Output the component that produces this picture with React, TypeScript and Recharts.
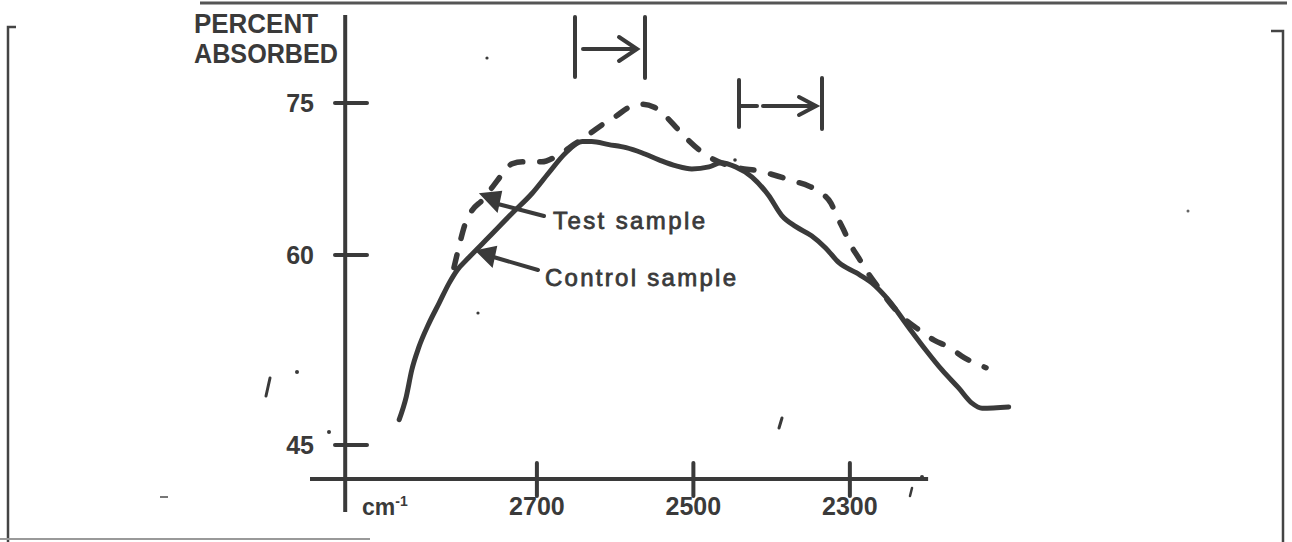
import React from "react";
import { LineChart, Line, XAxis, YAxis, ReferenceLine } from "recharts";

const INK = "#3a3a3a";

// wavenumber (cm-1) and percent absorbed left to right
const controlWn = [
  2876, 2867, 2860, 2851, 2838, 2825, 2812, 2802, 2787, 2761, 2732, 2706, 2685, 2663,
  2642, 2630, 2608, 2586, 2566, 2544, 2522, 2502, 2480, 2465, 2446, 2425, 2404, 2387,
  2369, 2349, 2331, 2314, 2292, 2272, 2250, 2225, 2203, 2182, 2161, 2144, 2131, 2097,
];
const controlPct = [
  47.0, 48.8, 50.9, 52.7, 54.6, 56.2, 57.8, 58.8, 59.8, 61.8, 64.1, 66.1, 68.1, 70.1,
  71.2, 71.2, 70.9, 70.6, 70.1, 69.4, 68.8, 68.5, 68.7, 69.1, 68.7, 67.7, 65.9, 63.9,
  62.8, 61.9, 60.7, 59.4, 58.6, 57.8, 56.4, 54.3, 52.5, 50.9, 49.5, 48.3, 47.9, 48.0,
];

const testWn = [
  2806, 2800, 2792, 2783, 2770, 2755, 2742, 2732, 2717, 2694, 2672, 2653, 2634, 2614,
  2599, 2582, 2566, 2550, 2534, 2522, 2506, 2493, 2478, 2461, 2442, 2416, 2397, 2372,
  2352, 2336, 2324, 2317, 2308, 2299, 2289, 2276, 2263, 2246, 2231, 2212, 2193, 2173,
  2154, 2126,
];
const testPct = [
  59.0, 60.7, 63.0, 64.4, 65.4, 66.9, 68.2, 69.0, 69.2, 69.2, 69.9, 70.9, 71.9, 73.0,
  73.7, 74.6, 74.9, 74.6, 73.6, 72.6, 71.3, 70.4, 69.6, 69.0, 68.6, 68.3, 67.9, 67.3,
  66.8, 66.1, 65.1, 63.9, 62.5, 61.0, 59.8, 58.5, 57.4, 56.0, 55.0, 54.1, 53.3, 52.7,
  51.9, 51.1,
];

const xTicks = [2700, 2500, 2300];
const yTicks = [45, 60, 75];

const X_DOMAIN = [2080, 2990];
const Y_DOMAIN = [39.7, 83.7];
const Y_AXIS_AT = 2945; // wavenumber where the vertical axis is drawn
const X_AXIS_AT = 42.3; // percent where the horizontal axis is drawn
const X_AXIS_END = 2200;

const controlData = controlWn.map((wn, i) => ({ wn, pct: controlPct[i] }));
const testData = testWn.map((wn, i) => ({ wn, pct: testPct[i] }));

// the hand-drawn y axis spaces its ticks unevenly (45->60 is longer than 60->75),
// so use a piecewise-linear scale through the tick values
const Y_KNOT_POS = [0, 190, 342];
function warp(v: number) {
  const i = v < yTicks[1] ? 0 : 1;
  return (
    Y_KNOT_POS[i] +
    ((v - yTicks[i]) * (Y_KNOT_POS[i + 1] - Y_KNOT_POS[i])) / (yTicks[i + 1] - yTicks[i])
  );
}
function warpedScale(dom: number[] = [0, 1], rng: number[] = [0, 1]): any {
  let d = dom.slice();
  let r = rng.slice();
  const s: any = (v: number) => {
    const a = warp(d[0]);
    const b = warp(d[d.length - 1]);
    return r[0] + ((warp(v) - a) / (b - a)) * (r[r.length - 1] - r[0]);
  };
  s.domain = (nd?: number[]) => {
    if (!nd) return d.slice();
    d = nd.map(Number);
    return s;
  };
  s.range = (nr?: number[]) => {
    if (!nr) return r.slice();
    r = nr.slice();
    return s;
  };
  s.copy = () => warpedScale(d, r);
  s.ticks = () => yTicks;
  s.clamp = () => s;
  return s;
}

const Y_AXIS_X = 346;

function YTick({ y, payload }: any) {
  return (
    <g>
      <line x1={Y_AXIS_X - 11} x2={Y_AXIS_X + 21} y1={y} y2={y} stroke={INK} strokeWidth={4} strokeLinecap="round" />
      <text x={314} y={y} dy={9} textAnchor="end" fontSize={25} fontWeight="bold" fill={INK}>
        {payload.value}
      </text>
    </g>
  );
}

function XTick({ x, payload }: any) {
  return (
    <g>
      <line x1={x} x2={x} y1={463} y2={496} stroke={INK} strokeWidth={4} strokeLinecap="round" />
      <text x={x} y={515} textAnchor="middle" fontSize={25} fontWeight="bold" fill={INK}>
        {payload.value}
      </text>
    </g>
  );
}

function Annotations() {
  const ln = { stroke: INK, strokeWidth: 4, strokeLinecap: "round" as const, fill: "none" };
  return (
    <svg
      width={1292}
      height={542}
      style={{ position: "absolute", left: 0, top: 0, pointerEvents: "none" }}
    >
      {/* scan edges */}
      <line x1={200} y1={3} x2={1287} y2={3} stroke="#555" strokeWidth={3} />
      <path d="M16,27 L8,27 L8,542" stroke="#444" strokeWidth={2.5} fill="none" />
      <path d="M1271,31 L1283,31 L1283,542" stroke="#444" strokeWidth={2.5} fill="none" />
      <line x1={0} y1={539} x2={370} y2={539} stroke="#999" strokeWidth={2} />

      {/* axis title */}
      <text x={194} y={33} fontSize={27} fontWeight="bold" fill={INK} textLength={124} lengthAdjust="spacingAndGlyphs">
        PERCENT
      </text>
      <text x={194} y={63} fontSize={27} fontWeight="bold" fill={INK} textLength={144} lengthAdjust="spacingAndGlyphs">
        ABSORBED
      </text>
      <text x={362} y={515} fontSize={23} fontWeight="bold" fill={INK}>
        cm<tspan dy={-9} fontSize={14}>-1</tspan>
      </text>

      {/* shift brackets */}
      <line x1={575} y1={17} x2={575} y2={77} {...ln} />
      <line x1={645} y1={17} x2={645} y2={78} {...ln} />
      <line x1={583} y1={49} x2={636} y2={49} {...ln} />
      <path d="M619,37 L637,49 L619,61" {...ln} />

      <line x1={739} y1={80} x2={739} y2={127} {...ln} />
      <line x1={822} y1={78} x2={822} y2={129} {...ln} />
      <line x1={741} y1={106} x2={757} y2={106} {...ln} />
      <line x1={763} y1={106} x2={815} y2={106} {...ln} />
      <path d="M799,97 L816,106 L799,115" {...ln} />

      {/* series labels */}
      <line x1={544} y1={216} x2={494} y2={203} {...ln} />
      <path d="M481,194 L501,192 L497,211 Z" fill={INK} stroke={INK} strokeWidth={2} />
      <text x={553} y={229} fontSize={24} fill={INK} stroke={INK} strokeWidth={0.8} textLength={152}>
        Test sample
      </text>
      <line x1={538} y1={270} x2={490} y2={256} {...ln} />
      <path d="M477,251 L496,247 L492,266 Z" fill={INK} stroke={INK} strokeWidth={2} />
      <text x={545} y={286} fontSize={24} fill={INK} stroke={INK} strokeWidth={0.8} textLength={191}>
        Control sample
      </text>

      {/* specks on the copy */}
      <circle cx={487} cy={58} r={1.6} fill={INK} />
      <path d="M270,378 L266,396" stroke={INK} strokeWidth={3} strokeLinecap="round" />
      <circle cx={297} cy={372} r={2} fill={INK} />
      <circle cx={329} cy={432} r={2} fill={INK} />
      <circle cx={478} cy={313} r={1.6} fill={INK} />
      <circle cx={735} cy={160} r={1.8} fill={INK} />
      <path d="M782,418 L779,428" stroke={INK} strokeWidth={3} strokeLinecap="round" />
      <path d="M912,488 L910,496" stroke={INK} strokeWidth={2.5} strokeLinecap="round" />
      <circle cx={922} cy={477} r={2} fill={INK} />
      <circle cx={1188} cy={211} r={1.5} fill="#666" />
      <path d="M160,497 L168,497" stroke="#777" strokeWidth={2} />
    </svg>
  );
}

export default function App() {
  return (
    <div
      style={{
        position: "absolute",
        left: 0,
        top: 0,
        width: 1292,
        height: 542,
        background: "#fff",
        fontFamily: "'Liberation Sans', Arial, sans-serif",
      }}
    >
      {/* axes get 1px of room: recharts skips drawing an axis whose size is 0 */}
      <LineChart width={1292} height={542} margin={{ top: 15, right: 270, bottom: 29, left: 309 }}>
        <XAxis
          type="number"
          dataKey="wn"
          domain={X_DOMAIN}
          reversed
          allowDataOverflow
          ticks={xTicks}
          interval={0}
          height={1}
          axisLine={false}
          tickLine={false}
          tick={(p: any) => <XTick {...p} />}
        />
        <YAxis
          type="number"
          domain={Y_DOMAIN}
          scale={warpedScale()}
          allowDataOverflow
          ticks={yTicks}
          interval={0}
          width={1}
          axisLine={false}
          tickLine={false}
          tick={(p: any) => <YTick {...p} />}
        />
        <ReferenceLine x={Y_AXIS_AT} stroke={INK} strokeWidth={4} />
        <ReferenceLine
          segment={[
            { x: X_DOMAIN[1], y: X_AXIS_AT },
            { x: X_AXIS_END, y: X_AXIS_AT },
          ]}
          stroke={INK}
          strokeWidth={4}
        />
        <Line
          data={controlData}
          dataKey="pct"
          type="monotone"
          stroke={INK}
          strokeWidth={5}
          strokeLinecap="round"
          dot={false}
          isAnimationActive={false}
        />
        <Line
          data={testData}
          dataKey="pct"
          type="monotone"
          stroke={INK}
          strokeWidth={5.5}
          strokeDasharray="13 17"
          strokeLinecap="round"
          dot={false}
          isAnimationActive={false}
        />
      </LineChart>
      <Annotations />
    </div>
  );
}
